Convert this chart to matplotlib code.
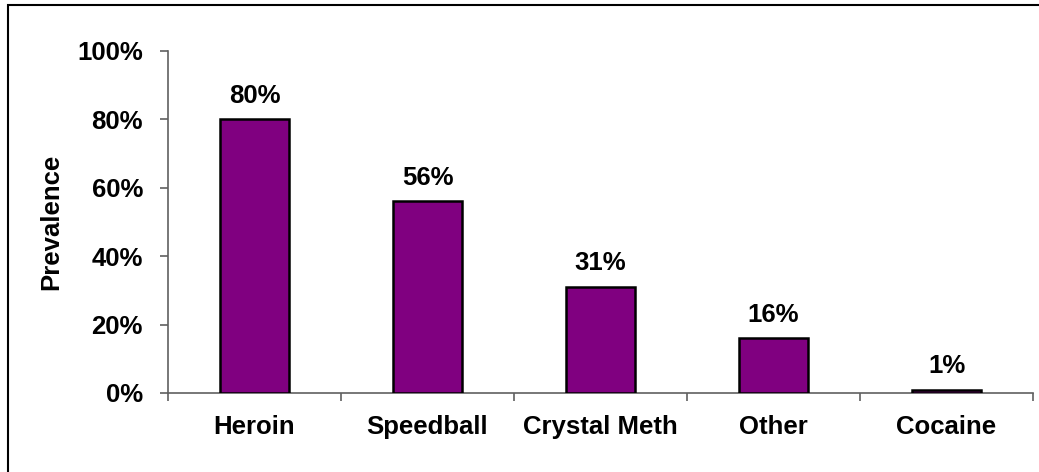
import numpy as np
import matplotlib
matplotlib.use('Agg')
import matplotlib.pyplot as plt
from matplotlib.patches import Rectangle
from matplotlib.ticker import FixedLocator, PercentFormatter

categories = ['Heroin', 'Speedball', 'Crystal Meth', 'Other', 'Cocaine']
prevalence = [80, 56, 31, 16, 1]
y_ticks = [0, 20, 40, 60, 80, 100]

plt.rcParams['font.family'] = ['Liberation Sans', 'DejaVu Sans']
plt.rcParams['font.weight'] = 'bold'

fig = plt.figure(figsize=(10.39, 4.72), dpi=100)
ax = fig.add_axes([168 / 1039, 1 - 393 / 472, 865 / 1039, 342 / 472])

# outer frame like the original slide chart (only top and left visible)
fig.patches.append(Rectangle((8 / 1039, -0.1), 1.2, 1 - 5 / 472 + 0.1,
                             transform=fig.transFigure, fill=False,
                             edgecolor='black', linewidth=1.5))

x = np.arange(len(categories))
bars = ax.bar(x, prevalence, width=0.4, color='#800080',
              edgecolor='black', linewidth=1.8, zorder=3)

for xi, v in zip(x, prevalence):
    ax.annotate(f'{v}%', (xi, v), xytext=(0, 12), textcoords='offset points',
                ha='center', va='baseline', fontsize=18.5, fontweight='bold')

ax.set_xlim(-0.5, len(categories) - 0.5)
ax.set_ylim(0, 100)
ax.set_yticks(y_ticks)
ax.yaxis.set_major_formatter(PercentFormatter(decimals=0))
ax.set_xticks(x)
ax.set_xticklabels(categories)
ax.xaxis.set_minor_locator(FixedLocator(np.arange(len(categories) + 1) - 0.5))

for side in ['top', 'right']:
    ax.spines[side].set_visible(False)
for side in ['left', 'bottom']:
    ax.spines[side].set_color('#606060')
    ax.spines[side].set_linewidth(1.2)

ax.tick_params(axis='y', direction='out', length=6, width=1.2, color='#606060',
               pad=12, labelsize=18.5)
ax.tick_params(axis='x', which='major', length=0, pad=16, labelsize=18.5)
ax.tick_params(axis='x', which='minor', direction='out', length=6, width=1.2,
               color='#606060')
for lbl in ax.get_xticklabels() + ax.get_yticklabels():
    lbl.set_fontweight('bold')

ax.set_ylabel('Prevalence', fontsize=18.5, fontweight='bold', labelpad=10)

fig.savefig('out.png', dpi=100)
